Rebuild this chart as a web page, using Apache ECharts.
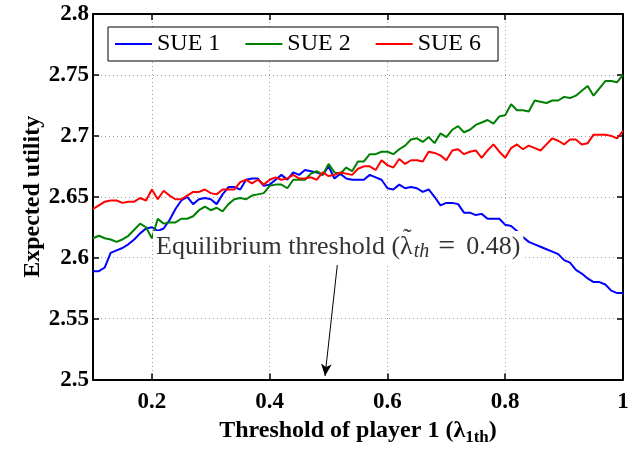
<!DOCTYPE html>
<html>
<head>
<meta charset="utf-8">
<script src="https://cdn.jsdelivr.net/npm/echarts@6/dist/echarts.min.js"></script>
<style>
  html, body { margin: 0; padding: 0; background: #fff; }
  #chart { width: 639px; height: 451px; }
</style>
</head>
<body>
<div id="chart"></div>
<script>
// threshold of player 1 (x), sampled every 0.01
const thresholds = [
  0.10, 0.11, 0.12, 0.13, 0.14, 0.15, 0.16, 0.17, 0.18, 0.19,
  0.20, 0.21, 0.22, 0.23, 0.24, 0.25, 0.26, 0.27, 0.28, 0.29,
  0.30, 0.31, 0.32, 0.33, 0.34, 0.35, 0.36, 0.37, 0.38, 0.39,
  0.40, 0.41, 0.42, 0.43, 0.44, 0.45, 0.46, 0.47, 0.48, 0.49,
  0.50, 0.51, 0.52, 0.53, 0.54, 0.55, 0.56, 0.57, 0.58, 0.59,
  0.60, 0.61, 0.62, 0.63, 0.64, 0.65, 0.66, 0.67, 0.68, 0.69,
  0.70, 0.71, 0.72, 0.73, 0.74, 0.75, 0.76, 0.77, 0.78, 0.79,
  0.80, 0.81, 0.82, 0.83, 0.84, 0.85, 0.86, 0.87, 0.88, 0.89,
  0.90, 0.91, 0.92, 0.93, 0.94, 0.95, 0.96, 0.97, 0.98, 0.99,
  1.00
];

const sue1 = [
  2.589, 2.589, 2.592, 2.604, 2.606, 2.608, 2.611, 2.615, 2.620, 2.624,
  2.625, 2.622, 2.624, 2.631, 2.640, 2.647, 2.650, 2.644, 2.648, 2.649,
  2.648, 2.644, 2.652, 2.658, 2.658, 2.656, 2.664, 2.665, 2.665, 2.659,
  2.660, 2.664, 2.668, 2.664, 2.670, 2.668, 2.672, 2.671, 2.670, 2.668,
  2.675, 2.665, 2.669, 2.665, 2.664, 2.664, 2.664, 2.668, 2.666, 2.664,
  2.657, 2.656, 2.660, 2.657, 2.658, 2.657, 2.654, 2.656, 2.650, 2.643,
  2.645, 2.645, 2.644, 2.637, 2.637, 2.635, 2.636, 2.632, 2.632, 2.632,
  2.627, 2.626, 2.622, 2.617, 2.613, 2.611, 2.609, 2.607, 2.605, 2.603,
  2.598, 2.596, 2.590, 2.587, 2.583, 2.580, 2.580, 2.578, 2.573, 2.571,
  2.571
];

const sue2 = [
  2.616, 2.618, 2.616, 2.615, 2.613, 2.615, 2.618, 2.623, 2.628, 2.625,
  2.616, 2.632, 2.628, 2.629, 2.629, 2.632, 2.632, 2.634, 2.639, 2.642,
  2.639, 2.641, 2.638, 2.644, 2.648, 2.649, 2.648, 2.651, 2.652, 2.653,
  2.659, 2.660, 2.660, 2.657, 2.664, 2.664, 2.664, 2.669, 2.671, 2.668,
  2.677, 2.670, 2.669, 2.674, 2.671, 2.679, 2.679, 2.685, 2.685, 2.687,
  2.687, 2.685, 2.689, 2.692, 2.697, 2.698, 2.695, 2.699, 2.694, 2.702,
  2.699, 2.705, 2.708, 2.703, 2.705, 2.709, 2.711, 2.713, 2.710, 2.716,
  2.717, 2.726, 2.721, 2.721, 2.720, 2.729, 2.728, 2.727, 2.729, 2.729,
  2.732, 2.731, 2.733, 2.737, 2.741, 2.733, 2.739, 2.745, 2.745, 2.744,
  2.750
];

const sue6 = [
  2.640, 2.643, 2.646, 2.647, 2.647, 2.645, 2.646, 2.646, 2.649, 2.647,
  2.656, 2.648, 2.655, 2.651, 2.648, 2.648, 2.651, 2.654, 2.654, 2.656,
  2.653, 2.652, 2.656, 2.656, 2.656, 2.662, 2.664, 2.661, 2.664, 2.660,
  2.664, 2.666, 2.664, 2.665, 2.668, 2.665, 2.665, 2.666, 2.664, 2.670,
  2.667, 2.668, 2.670, 2.669, 2.668, 2.673, 2.675, 2.675, 2.672, 2.680,
  2.676, 2.674, 2.681, 2.677, 2.680, 2.680, 2.679, 2.687, 2.686, 2.684,
  2.680, 2.688, 2.689, 2.685, 2.687, 2.688, 2.682, 2.688, 2.693, 2.687,
  2.682, 2.690, 2.693, 2.689, 2.692, 2.690, 2.688, 2.693, 2.698, 2.696,
  2.693, 2.697, 2.697, 2.693, 2.694, 2.701, 2.701, 2.701, 2.700, 2.698,
  2.704
];

const xTicks = [0.2, 0.4, 0.6, 0.8, 1];
const seriesNames = ['SUE 1', 'SUE 2', 'SUE 6'];
const seriesColors = ['#0000ff', '#008000', '#ff0000'];

const SERIF = '"Liberation Serif", "Times New Roman", serif';

const pairs = (ys) => thresholds.map((x, i) => [x, ys[i]]);

const chart = echarts.init(document.getElementById('chart'));

const gridLine = { show: true, lineStyle: { color: '#a0a0a0', width: 1, type: [1, 3] } };
const boxLine = { show: true, lineStyle: { color: '#000', width: 2 } };
const inTick = { show: true, inside: true, length: 6, lineStyle: { color: '#000', width: 1.5 } };

const option = {
  animation: false,
  backgroundColor: '#fff',
  grid: { left: 93, right: 16, top: 14, bottom: 63, containLabel: false },
  legend: {
    data: seriesNames,
    left: 108,
    top: 27,
    padding: [5, 17, 5, 7],
    itemGap: 25,
    itemWidth: 37,
    itemHeight: 2,
    icon: 'rect',
    backgroundColor: '#fff',
    borderColor: '#000',
    borderWidth: 1,
    borderRadius: 0,
    textStyle: { fontFamily: SERIF, fontSize: 24, color: '#000', padding: [2, 0, 0, 0] }
  },
  xAxis: [
    {
      type: 'value',
      min: 0.1,
      max: 1,
      name: 'Threshold of player 1 ({l|λ}{s|1th})',
      nameLocation: 'middle',
      nameGap: 25,
      nameTextStyle: {
        fontFamily: SERIF, fontSize: 24, fontWeight: 'bold', color: '#000',
        rich: {
          l: { fontFamily: SERIF, fontSize: 24, color: '#000' },
          s: { fontFamily: SERIF, fontSize: 17, fontWeight: 'bold', color: '#000', padding: [14, 0, 0, 0] }
        }
      },
      axisLine: boxLine,
      axisTick: Object.assign({ customValues: xTicks }, inTick),
      axisLabel: {
        customValues: xTicks,
        margin: 11,
        fontFamily: SERIF, fontSize: 23, fontWeight: 'bold', color: '#000',
        formatter: (v) => String(+v.toFixed(1))
      },
      splitLine: gridLine
    },
    {
      type: 'value',
      position: 'top',
      min: 0.1,
      max: 1,
      axisLine: boxLine,
      axisTick: Object.assign({ customValues: xTicks }, inTick),
      axisLabel: { show: false },
      splitLine: { show: false }
    }
  ],
  yAxis: [
    {
      type: 'value',
      min: 2.5,
      max: 2.8,
      interval: 0.05,
      name: 'Expected utility',
      nameLocation: 'middle',
      nameGap: 48,
      nameMoveOverlap: false,
      nameTextStyle: { fontFamily: SERIF, fontSize: 24, fontWeight: 'bold', color: '#000' },
      axisLine: boxLine,
      axisTick: inTick,
      axisLabel: {
        margin: 4,
        fontFamily: SERIF, fontSize: 23, fontWeight: 'bold', color: '#000',
        formatter: (v) => String(+v.toFixed(2))
      },
      splitLine: gridLine
    },
    {
      type: 'value',
      position: 'right',
      min: 2.5,
      max: 2.8,
      interval: 0.05,
      axisLine: boxLine,
      axisTick: inTick,
      axisLabel: { show: false },
      splitLine: { show: false }
    }
  ],
  series: [
    {
      name: seriesNames[0],
      type: 'line',
      data: pairs(sue1),
      symbol: 'none',
      lineStyle: { width: 2, color: seriesColors[0] },
      itemStyle: { color: seriesColors[0] },
      markLine: {
        silent: true,
        symbol: ['none', 'arrow'],
        symbolSize: [8, 12],
        label: { show: false },
        lineStyle: { color: '#000', width: 1, type: 'solid' },
        data: [[{ coord: [0.516, 2.599] }, { coord: [0.494, 2.503] }]]
      }
    },
    {
      name: seriesNames[1],
      type: 'line',
      data: pairs(sue2),
      symbol: 'none',
      lineStyle: { width: 2, color: seriesColors[1] },
      itemStyle: { color: seriesColors[1] }
    },
    {
      name: seriesNames[2],
      type: 'line',
      data: pairs(sue6),
      symbol: 'none',
      lineStyle: { width: 2, color: seriesColors[2] },
      itemStyle: { color: seriesColors[2] }
    }
  ],
  graphic: [
    {
      type: 'text',
      left: 153,
      top: 231,
      z: 100,
      style: {
        text: 'Equilibrium threshold ({l|λ}{s|th}{e|=}0.48)',
        font: '26px "Liberation Serif"',
        fill: '#333',
        backgroundColor: '#fff',
        padding: [1, 3, 3, 3],
        rich: {
          l: { fontFamily: SERIF, fontSize: 26, fill: '#333' },
          s: { fontFamily: SERIF, fontSize: 20, fontStyle: 'italic', fill: '#333', padding: [10, 0, 0, 1] },
          e: { fontFamily: SERIF, fontSize: 30, fill: '#333', padding: [0, 11, 0, 9] }
        }
      }
    },
    {
      // tilde accent over lambda
      type: 'text',
      left: 403,
      top: 226,
      z: 101,
      style: { text: '˜', font: '26px "Liberation Serif"', fill: '#333' }
    }
  ]
};

chart.setOption(option);
</script>
</body>
</html>
